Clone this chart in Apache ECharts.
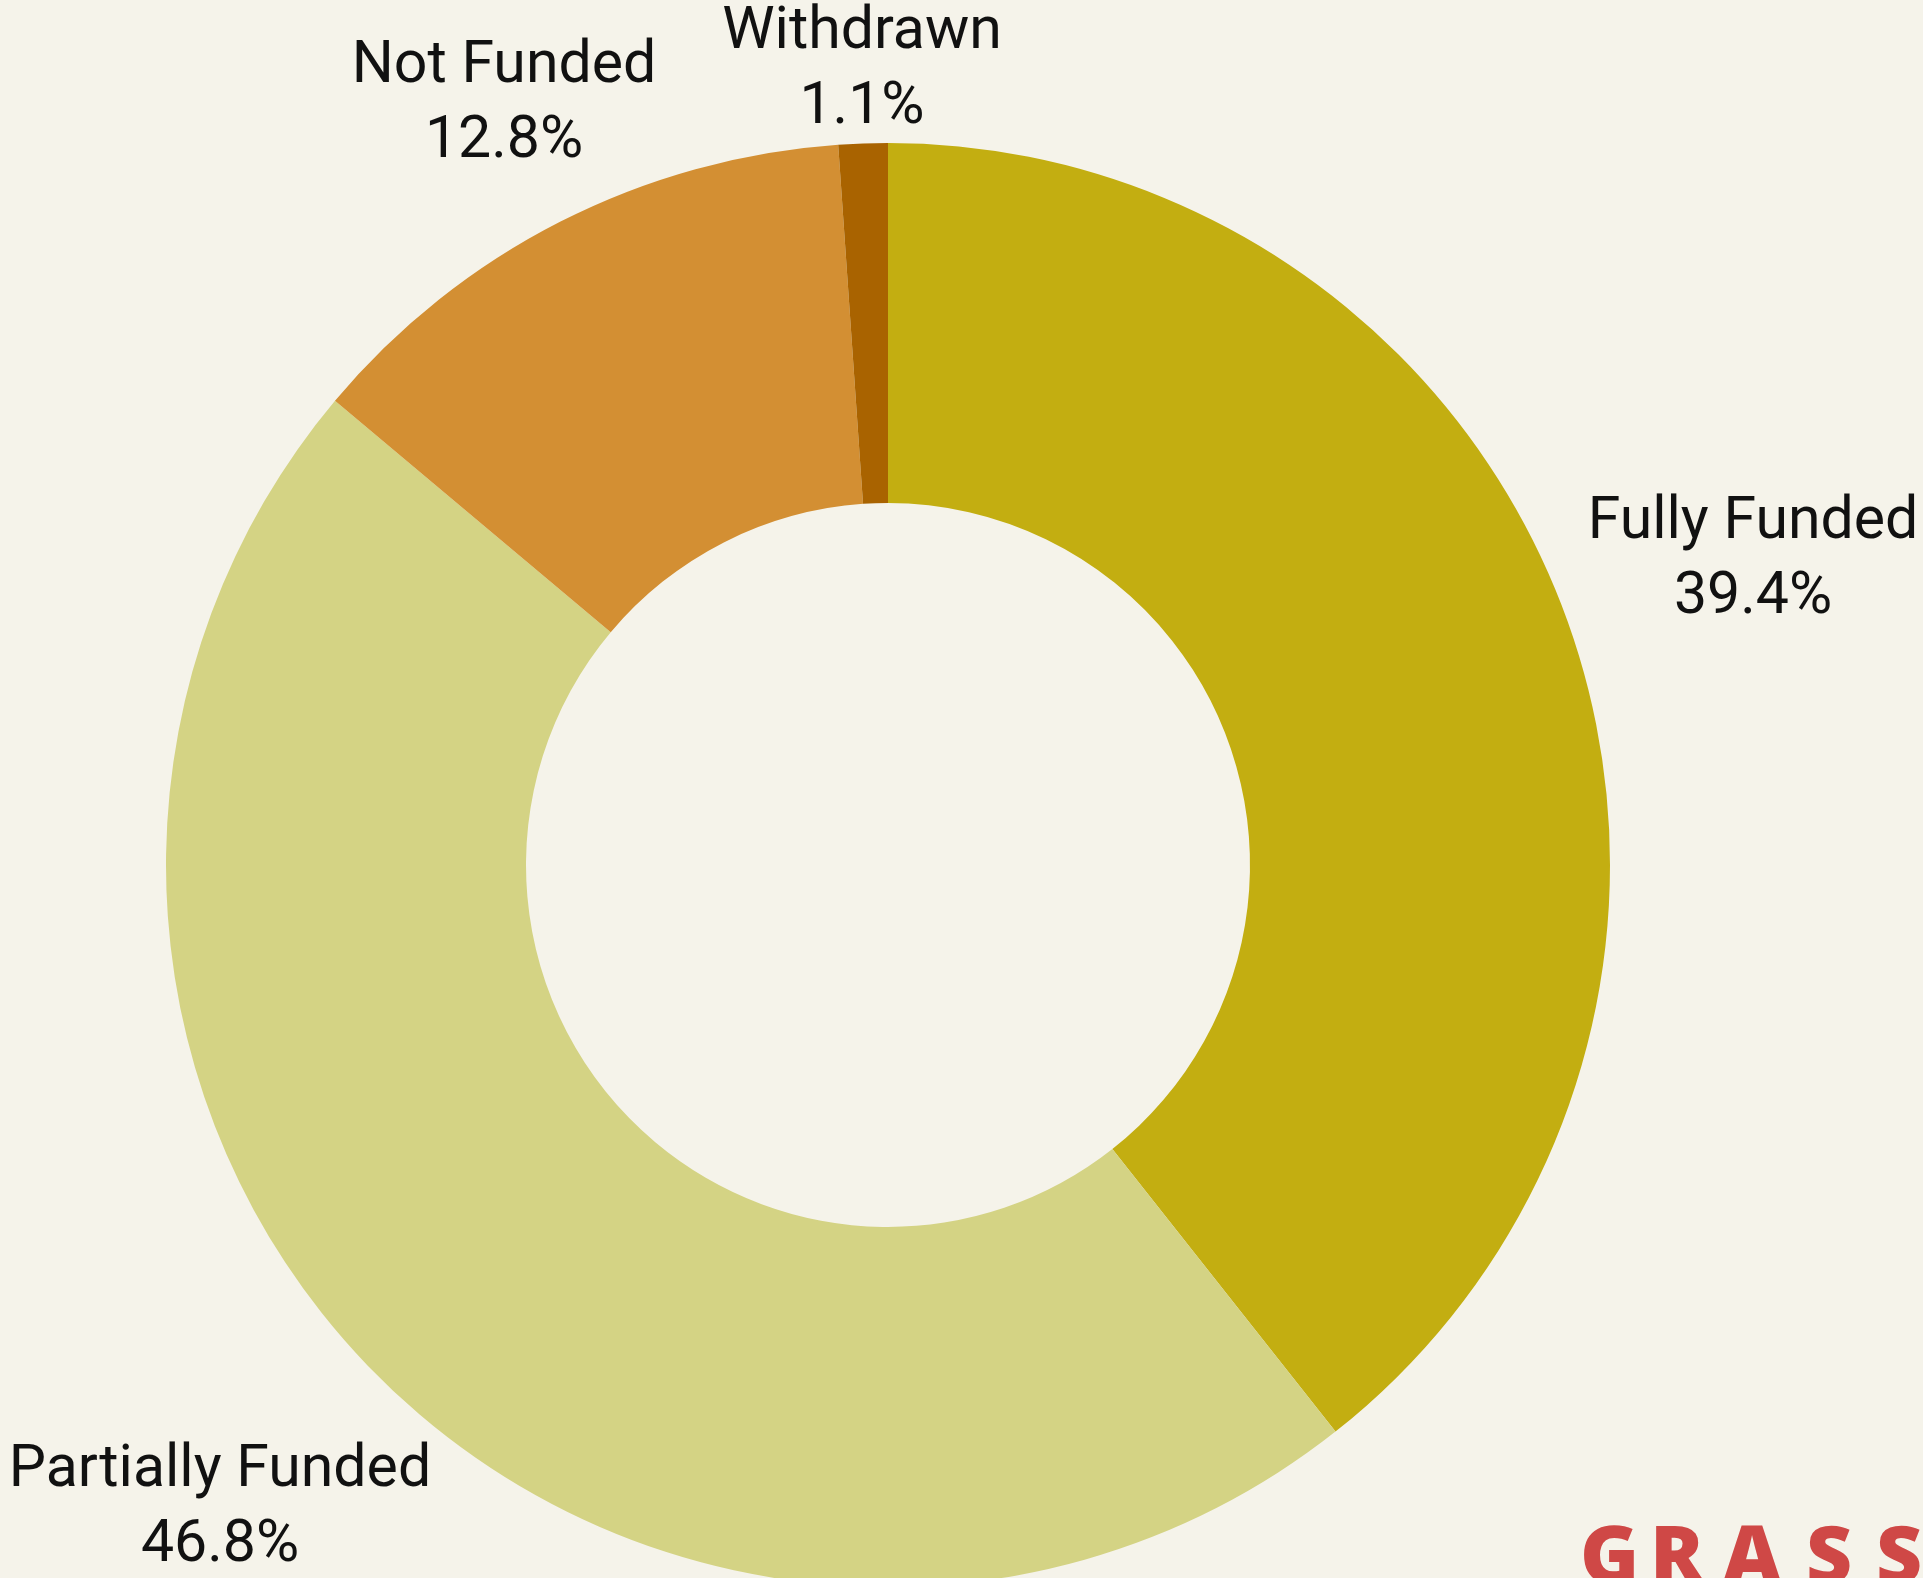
<!DOCTYPE html>
<html lang="en">
<head>
    <meta charset="UTF-8">
    <title>Funding status</title>
    <script src="https://cdn.jsdelivr.net/npm/echarts@6/dist/echarts.min.js"></script>
    <style type="text/css">
    html, body { margin:0; padding:0; background:#F5F3EA; }
    #chart { width:1923px; height:1578px; }
    </style>
</head>
<body>
<div id="chart"></div>
<script type="text/javascript">
    // data
    var statusNames = ['Fully Funded', 'Partially Funded', 'Not Funded', 'Withdrawn'];
    var statusShares = [39.4, 46.8, 12.8, 1.1];
    var sliceColors = ['#C3AE11', '#D4D384', '#D38F33', '#A96300'];

    // where each label block sits (centre of text)
    var labelSpots = [[1753, 561], [220, 1509], [504, 105], [862, 71]];

    var myChart = echarts.init(document.getElementById('chart'));

    var pieData = statusNames.map(function (n, i) {
        return {
            name: n,
            value: statusShares[i],
            itemStyle: { color: sliceColors[i] }
        };
    });

    var grass = ['G', 'R', 'A', 'S', 'S'];
    var grassX = [1580, 1650, 1723, 1806, 1876];

    option = {
        backgroundColor: '#F5F3EA',
        animation: false,
        series: [{
            type: 'pie',
            center: [888, 865],
            radius: [362, 722],
            startAngle: 90,
            clockwise: true,
            avoidLabelOverlap: false,
            label: {
                show: true,
                position: 'outside',
                formatter: function (p) {
                    return p.name + '\n' + p.value.toFixed(1) + '%';
                },
                color: '#111',
                fontFamily: 'Roboto',
                fontSize: 59,
                lineHeight: 75,
                align: 'center'
            },
            labelLine: { show: false },
            labelLayout: function (p) {
                var s = labelSpots[p.dataIndex];
                return { x: s[0], y: s[1], align: 'center', verticalAlign: 'middle' };
            },
            emphasis: { disabled: true },
            data: pieData
        }],
        graphic: grass.map(function (ch, i) {
            return {
                type: 'text',
                left: grassX[i],
                top: 1520,
                style: {
                    text: ch,
                    fill: '#CF4846',
                    font: '800 80px "Open Sans", Lato, sans-serif'
                }
            };
        })
    };
    myChart.setOption(option);
</script>
</body>
</html>
